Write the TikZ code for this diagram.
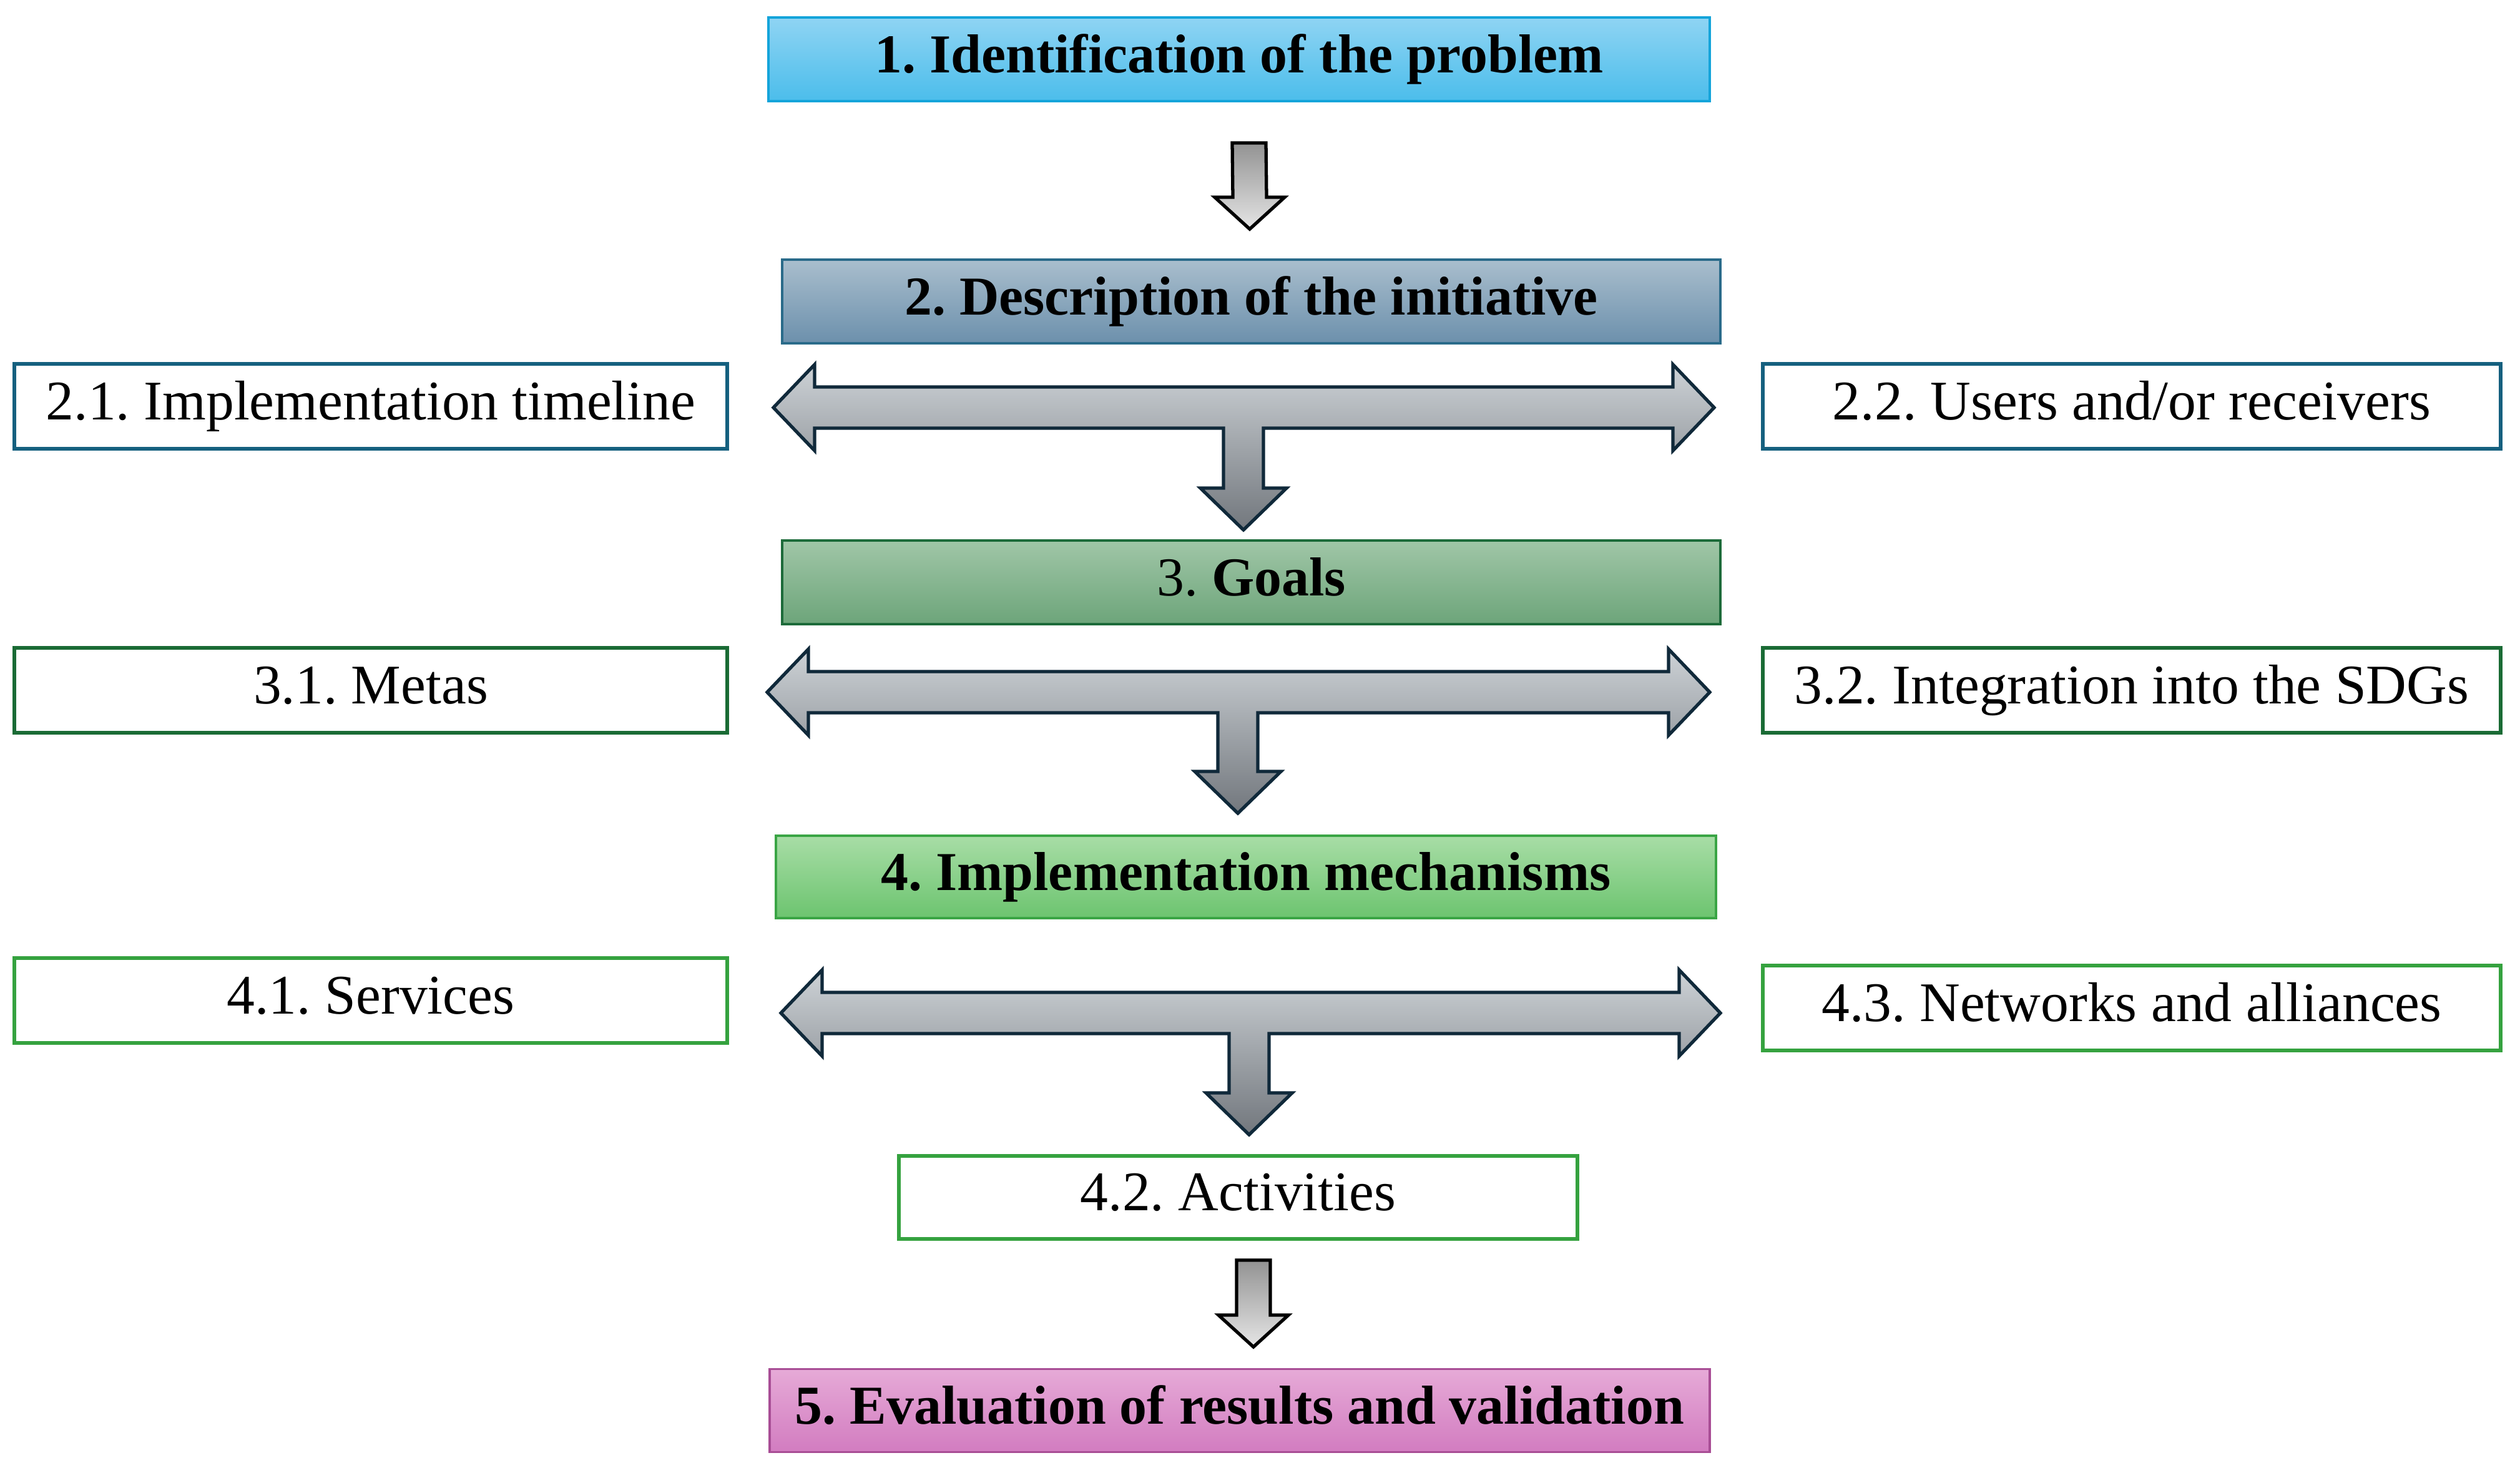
\documentclass[tikz,border=0pt]{standalone}
\usepackage{fontspec}
\setmainfont{Liberation Serif}
\usepackage{tikz}
\usetikzlibrary{positioning}
\usetikzlibrary{calc}
\frenchspacing

\definecolor{probtop}{HTML}{8FD4F3}
\definecolor{probbot}{HTML}{4BBDEB}
\definecolor{probline}{HTML}{14A4DA}
\definecolor{desctop}{HTML}{A9BECD}
\definecolor{descbot}{HTML}{6C90AC}
\definecolor{descline}{HTML}{2A6B8A}
\definecolor{goaltop}{HTML}{A0C6A7}
\definecolor{goalbot}{HTML}{6DA57A}
\definecolor{goalline}{HTML}{1D6B3A}
\definecolor{mechtop}{HTML}{A8DDA6}
\definecolor{mechbot}{HTML}{6CC46F}
\definecolor{mechline}{HTML}{3AA545}
\definecolor{evaltop}{HTML}{E6AAD7}
\definecolor{evalbot}{HTML}{D27CC0}
\definecolor{evalline}{HTML}{A84D95}
\definecolor{subblue}{HTML}{15607F}
\definecolor{subdark}{HTML}{1A6B35}
\definecolor{subgreen}{HTML}{35A23F}
\definecolor{arrowline}{HTML}{10293A}
\definecolor{arrowtop}{HTML}{CDD2D6}
\definecolor{arrowmid}{HTML}{D0D0D1}
\definecolor{arrowbot}{HTML}{72777D}

\tikzset{
  mainbox/.style={draw, line width=1pt, minimum width=15.05cm, minimum height=1.34cm, inner sep=0,
    text height=17.5pt, text depth=5pt, font=\fontsize{25}{30}\selectfont\bfseries},
  subbox/.style={draw, line width=1.7pt, fill=white, minimum height=1.36cm, inner sep=0,
    text height=17.5pt, text depth=5pt, font=\fontsize{25.5}{30}\selectfont},
  blockarrow/.style={draw=arrowline, line width=1.5pt, top color=arrowtop, middle color=arrowmid, bottom color=arrowbot},
  plainarrow/.style={draw=black, line width=1.5pt, top color=gray!85, bottom color=gray!20}
}

\newcommand{\teearrow}[3]{%
  \path[blockarrow] (#1) -- ++(0.66,0.69) -- ++(0,-0.36) -- ($(#2)+(-0.66,0.33)$) -- ++(0,0.36)
    -- (#2) -- ++(-0.66,-0.69) -- ++(0,0.36) -- ($(#1 -| #3)+(0.32,-0.33)$) -- ($(#3)+(0.32,0.67)$)
    -- ++(0.37,0) -- (#3) -- ++(-0.69,0.67) -- ++(0.37,0) -- ($(#1 -| #3)+(-0.32,-0.33)$)
    -- ($(#1)+(0.66,-0.33)$) -- ++(0,-0.36) -- cycle;}
\newcommand{\dnarrow}[2]{%
  \path[plainarrow] ($(#1)+(-0.27,0)$) -- ($(#1)+(0.27,0)$) -- ($(#2)+(0.27,0.51)$) -- ++(0.29,0)
    -- (#2) -- ++(-0.56,0.51) -- ++(0.29,0) -- cycle;}

\begin{document}
\begin{tikzpicture}
\useasboundingbox[fill=white] (0,0) rectangle (40.37,-23.43);

\node[mainbox, minimum width=15.08cm, draw=probline, top color=probtop, bottom color=probbot] (1) at (19.85,-0.95) {1. Identification of the problem};
\node[mainbox, minimum width=15.03cm, draw=descline, top color=desctop, bottom color=descbot] (2) at (20.045,-4.83) {2. Description of the initiative};
\node[subbox, draw=subblue, minimum width=11.42cm] (21) at (5.94,-6.51) {2.1. Implementation timeline};
\node[subbox, draw=subblue, minimum width=11.82cm] (22) at (34.15,-6.51) {2.2. Users and/or receivers};
\node[mainbox, minimum width=15.03cm, draw=goalline, top color=goaltop, bottom color=goalbot] (3) at (20.045,-9.33) {\mdseries 3. \bfseries Goals};
\node[subbox, draw=subdark, minimum width=11.42cm] (31) at (5.94,-11.06) {3.1. Metas};
\node[subbox, draw=subdark, minimum width=11.82cm] (32) at (34.15,-11.06) {3.2. Integration into the SDGs};
\node[mainbox, minimum width=15.06cm, minimum height=1.32cm, draw=mechline, top color=mechtop, bottom color=mechbot] (4) at (19.96,-14.05) {4. Implementation mechanisms};
\node[subbox, draw=subgreen, minimum width=11.42cm] (41) at (5.94,-16.03) {4.1. Services};
\node[subbox, draw=subgreen, minimum width=11.82cm] (43) at (34.15,-16.15) {4.3. Networks and alliances};
\node[subbox, draw=subgreen, minimum width=10.87cm, minimum height=1.33cm] (42) at (19.835,-19.18) {4.2. Activities};
\node[mainbox, minimum width=15.06cm, minimum height=1.33cm, draw=evalline, top color=evaltop, bottom color=evalbot] (5) at (19.86,-22.6) {5. Evaluation of results and validation};

\coordinate (1t) at (20.01,-2.29);
\coordinate (1d) at (20.02,-3.67);
\coordinate (2l) at (12.39,-6.53);
\coordinate (2r) at (27.46,-6.53);
\coordinate (2d) at (19.92,-8.49);
\coordinate (3l) at (12.29,-11.09);
\coordinate (3r) at (27.39,-11.09);
\coordinate (3d) at (19.83,-13.03);
\coordinate (4l) at (12.51,-16.23);
\coordinate (4r) at (27.56,-16.23);
\coordinate (4d) at (20.01,-18.18);
\coordinate (5t) at (20.08,-20.19);
\coordinate (5d) at (20.08,-21.58);

\dnarrow{1t}{1d}
\teearrow{2l}{2r}{2d}
\teearrow{3l}{3r}{3d}
\teearrow{4l}{4r}{4d}
\dnarrow{5t}{5d}
\end{tikzpicture}
\end{document}
